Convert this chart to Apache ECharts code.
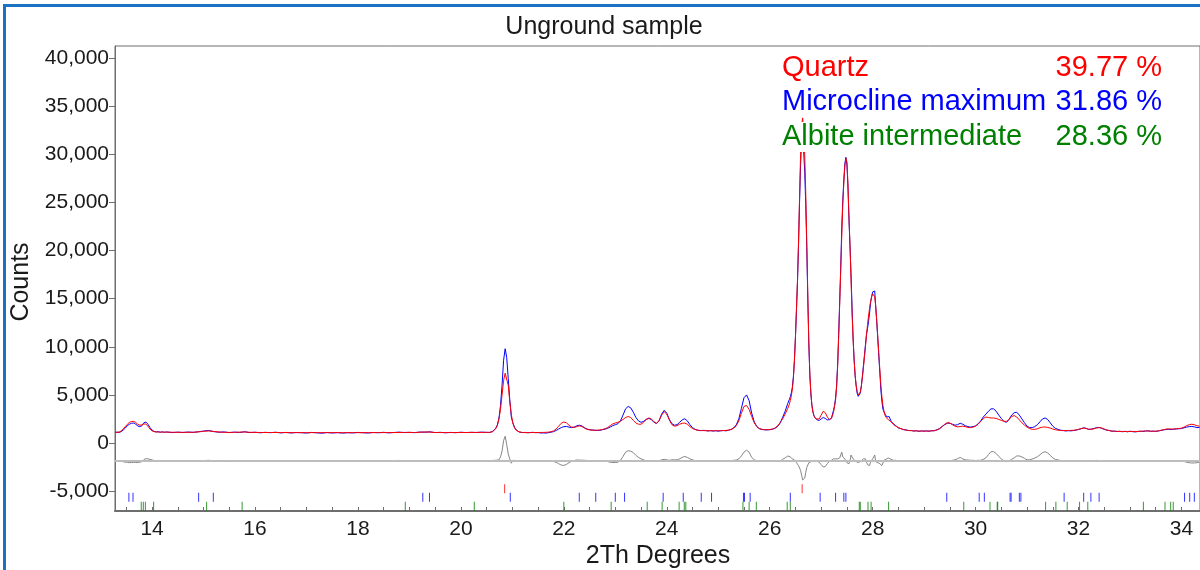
<!DOCTYPE html>
<html>
<head>
<meta charset="utf-8">
<title>Unground sample</title>
<script src="https://cdn.jsdelivr.net/npm/echarts/dist/echarts.min.js"></script>
<style>
  html, body { margin: 0; padding: 0; background: #fff; }
  #main { width: 1200px; height: 570px; }
</style>
</head>
<body>
<div id="main"></div>
<script>
// 2Th positions shared by observed / calculated profiles
var twoTheta = [
  13.28, 13.32, 13.36, 13.40, 13.44, 13.48, 13.52, 13.56, 13.60, 13.64, 13.68, 13.72, 13.76, 13.80, 13.84, 13.88, 13.92, 13.96, 14.00, 14.04, 14.08, 14.12, 14.16, 14.20, 14.24, 14.28,
  14.3, 14.4, 14.5, 14.6, 14.7, 14.8, 14.9, 15.0, 15.1, 15.2, 15.3, 15.4, 15.5, 15.6, 15.7, 15.8, 15.9, 16.0, 16.1, 16.2,
  16.3, 16.4, 16.5, 16.6, 16.7, 16.8, 16.9, 17.0, 17.1, 17.2, 17.3, 17.4, 17.5, 17.6, 17.7, 17.8, 17.9, 18.0, 18.1, 18.2,
  18.3, 18.4, 18.5, 18.6, 18.7, 18.8, 18.9, 19.0, 19.1, 19.2, 19.3, 19.4, 19.5, 19.6, 19.7, 19.8, 19.9, 20.0, 20.1, 20.2,
  20.3, 20.4, 20.5,
  20.56, 20.59, 20.62, 20.65, 20.68, 20.71, 20.74, 20.77, 20.80, 20.83, 20.86, 20.89, 20.92, 20.95, 20.98, 21.01, 21.04, 21.07, 21.10, 21.13, 21.16, 21.19, 21.22,
  21.25, 21.30, 21.35, 21.40, 21.45, 21.50, 21.55, 21.60, 21.65, 21.70,
  21.75, 21.80, 21.85, 21.90, 21.95, 22.00, 22.05, 22.10, 22.15, 22.20,
  22.25, 22.30, 22.35, 22.40, 22.45, 22.50, 22.55, 22.60, 22.65, 22.70,
  22.75, 22.80, 22.85, 22.90, 22.95, 23.00, 23.05, 23.10, 23.15, 23.20,
  23.25, 23.30, 23.35, 23.40, 23.45, 23.50, 23.55, 23.60, 23.65, 23.70,
  23.75, 23.80, 23.85, 23.90, 23.95, 24.00, 24.05, 24.10, 24.15, 24.20,
  24.25, 24.30, 24.35, 24.40, 24.45, 24.50, 24.55, 24.60, 24.65, 24.70,
  24.75, 24.80, 24.85, 24.90, 24.95, 25.00, 25.05, 25.10, 25.15, 25.20,
  25.25, 25.30, 25.35, 25.40, 25.45, 25.50, 25.55, 25.60, 25.65, 25.70,
  25.75, 25.80, 25.85, 25.90, 25.95, 26.00, 26.05, 26.10, 26.15, 26.20,
  26.25, 26.30, 26.35,
  26.38, 26.40, 26.42, 26.44, 26.46, 26.48, 26.50, 26.52, 26.54, 26.56, 26.58, 26.60, 26.62, 26.64, 26.66, 26.68, 26.70, 26.72, 26.74, 26.76,
  26.78, 26.80, 26.82, 26.84, 26.86, 26.88, 26.90,
  26.92, 26.96, 27.00, 27.04, 27.08, 27.12, 27.16, 27.20, 27.24,
  27.26, 27.28, 27.30, 27.32, 27.34, 27.36, 27.38, 27.40, 27.42, 27.44, 27.46, 27.48, 27.50, 27.52, 27.54, 27.56, 27.58, 27.60, 27.62, 27.64,
  27.66, 27.68, 27.70, 27.72,
  27.74, 27.76, 27.78, 27.80, 27.82, 27.84, 27.86, 27.88, 27.90, 27.92, 27.94, 27.96, 27.98, 28.00, 28.02, 28.04, 28.06, 28.08, 28.10, 28.12,
  28.14, 28.16, 28.18, 28.20, 28.22, 28.24, 28.26, 28.28, 28.30, 28.32, 28.34, 28.36,
  28.40, 28.45, 28.50, 28.55, 28.60, 28.65, 28.70, 28.75, 28.80, 28.85,
  28.90, 28.95, 29.00, 29.05, 29.10, 29.15, 29.20, 29.25, 29.30, 29.35,
  29.40, 29.45, 29.50, 29.55, 29.60, 29.65, 29.70, 29.75, 29.80, 29.85,
  29.90, 29.95, 30.00, 30.05, 30.10, 30.15, 30.20, 30.25, 30.30, 30.35,
  30.40, 30.45, 30.50, 30.55, 30.60, 30.65, 30.70, 30.75, 30.80, 30.85,
  30.90, 30.95, 31.00, 31.05, 31.10, 31.15, 31.20, 31.25, 31.30, 31.35,
  31.40, 31.45, 31.50, 31.55, 31.60, 31.65, 31.70, 31.75, 31.80, 31.85,
  31.90, 31.95, 32.00, 32.05, 32.10, 32.15, 32.20, 32.25, 32.30, 32.35,
  32.40, 32.45, 32.50, 32.55, 32.60, 32.65, 32.70, 32.75, 32.80, 32.85,
  32.90, 32.95, 33.00, 33.05, 33.10, 33.15, 33.20, 33.25, 33.30, 33.35,
  33.40, 33.45, 33.50, 33.55, 33.60, 33.65, 33.70, 33.75, 33.80, 33.85,
  33.90, 33.95, 34.00, 34.05, 34.10, 34.15, 34.20, 34.25, 34.30, 34.35
];

// observed counts (blue)
var observed = [
  1090, 1130, 1100, 1180, 1350, 1550, 1800, 1950, 2050, 2080, 1980, 1760, 1700, 1780, 2100, 2180, 1950, 1600, 1350, 1200, 1150, 1180, 1120, 1160, 1110, 1150,
  1150, 1080, 1130, 1090, 1140, 1100, 1170, 1240, 1300, 1180, 1120, 1150, 1080, 1130, 1090, 1170, 1080, 1120, 1060, 1110,
  1070, 1120, 1050, 1100, 1040, 1090, 1070, 1030, 1100, 1060, 1020, 1090, 1040, 1080, 1030, 1070, 1050, 1100, 1060, 1040,
  1090, 1070, 1110, 1050, 1090, 1130, 1080, 1110, 1070, 1140, 1120, 1160, 1080, 1110, 1060, 1100, 1070, 1120, 1080, 1110,
  1090, 1130, 1100,
  1100, 1150, 1220, 1350, 1550, 1900, 2600, 3900, 6000, 8600, 9800, 8900, 6700, 4500, 2700, 2100, 1650, 1380, 1250, 1150, 1120, 1080, 1060,
  1100, 1060, 1090, 1110, 1070, 1080, 1040, 1050, 1030, 1070,
  1120, 1180, 1300, 1450, 1600, 1700, 1720, 1650, 1600, 1650,
  1780, 1850, 1780, 1600, 1450, 1380, 1350, 1320, 1300, 1320,
  1380, 1440, 1520, 1650, 1800, 1900, 2000, 2300, 2900, 3550,
  3800, 3650, 3200, 2650, 2300, 2150, 2250, 2450, 2550, 2450,
  2150, 2020, 2300, 3000, 3400, 3100, 2450, 2000, 1850, 1900,
  2150, 2400, 2520, 2300, 1900, 1600, 1420, 1330, 1280, 1310,
  1300, 1250, 1290, 1240, 1280, 1230, 1270, 1300, 1260, 1320,
  1420, 1580, 1880, 2500, 3600, 4700, 5000, 4400, 3100, 2200,
  1700, 1480, 1400, 1370, 1360, 1380, 1420, 1520, 1700, 2050,
  2650, 3300, 4100,
  4500, 4800, 5200, 5800, 6900, 8600, 11000, 13800, 16800, 20500, 25000, 29000, 31500, 31800, 30300, 28200, 24800, 20300, 15000, 10300,
  7000, 5100, 3900, 3250, 2850, 2620, 2480,
  2400, 2350, 2500, 2650, 2550, 2400, 2420, 2600, 3400,
  3900, 4700, 6000, 8200, 11300, 14800, 18300, 22400, 25200, 27400, 29000, 29700, 29000, 26600, 23200, 20500, 17600, 14100, 11000, 8700,
  7000, 5900, 5150, 4850,
  4850, 5200, 5900, 6900, 8000, 9100, 10200, 11300, 11900, 12600, 13500, 14600, 15200, 15700, 15900, 15800, 14100, 12600, 10800, 9000,
  7300, 5500, 4300, 3500, 3350, 3000, 2800, 2700, 2750, 2750, 2500, 2250,
  2000, 1800, 1560, 1500, 1380, 1360, 1290, 1300, 1240, 1280,
  1210, 1260, 1230, 1250, 1220, 1280, 1270, 1380, 1500, 1720,
  1900, 2050, 2050, 1950, 1850, 1900, 2050, 1950, 1800, 1700,
  1650, 1700, 1780, 2000, 2300, 2700, 3000, 3300, 3550, 3550,
  3300, 2900, 2550, 2250, 2150, 2450, 2900, 3150, 3200, 2900,
  2500, 2100, 1750, 1600, 1600, 1700, 1900, 2200, 2500, 2600,
  2450, 2100, 1750, 1520, 1420, 1330, 1300, 1250, 1280, 1260,
  1290, 1340, 1400, 1480, 1580, 1520, 1400, 1450, 1500, 1600,
  1620, 1520, 1420, 1330, 1300, 1220, 1240, 1190, 1220, 1170,
  1210, 1160, 1220, 1180, 1150, 1190, 1230, 1200, 1240, 1270,
  1210, 1240, 1200, 1250, 1300, 1360, 1400, 1420, 1400, 1430,
  1460, 1480, 1500, 1580, 1650, 1700, 1720, 1680, 1600, 1620
];

// calculated profile (red)
var calculated = [
  1100, 1110, 1130, 1250, 1450, 1700, 1950, 2150, 2230, 2250, 2150, 1950, 1850, 1880, 1980, 1960, 1750, 1450, 1260, 1180, 1150, 1140, 1130, 1130, 1130, 1120,
  1120, 1115, 1110, 1110, 1110, 1120, 1150, 1220, 1250, 1200, 1140, 1110, 1100, 1110, 1130, 1140, 1110, 1100, 1095, 1090,
  1090, 1090, 1085, 1085, 1080, 1080, 1080, 1080, 1080, 1075, 1075, 1075, 1075, 1075, 1075, 1075, 1075, 1075, 1080, 1080,
  1080, 1080, 1080, 1085, 1085, 1090, 1100, 1100, 1090, 1110, 1150, 1130, 1090, 1085, 1085, 1085, 1085, 1090, 1090, 1100,
  1100, 1100, 1110,
  1100, 1120, 1180, 1300, 1500, 1850, 2500, 3500, 5000, 6500, 7250, 7200, 6000, 4300, 2950, 2050, 1600, 1350, 1230, 1160, 1120, 1100, 1090,
  1080, 1080, 1080, 1085, 1090, 1090, 1095, 1100, 1110, 1130,
  1170, 1260, 1450, 1750, 2050, 2180, 2100, 1850, 1650, 1620,
  1700, 1780, 1720, 1550, 1420, 1360, 1340, 1330, 1330, 1350,
  1400, 1480, 1600, 1800, 1980, 2080, 2150, 2260, 2450, 2650,
  2750, 2650, 2350, 2080, 1950, 1950, 2150, 2450, 2600, 2500,
  2200, 2070, 2300, 2900, 3250, 3000, 2400, 1900, 1750, 1800,
  1950, 2050, 2070, 1950, 1700, 1500, 1400, 1330, 1300, 1290,
  1280, 1270, 1270, 1270, 1270, 1275, 1280, 1290, 1310, 1340,
  1400, 1530, 1800, 2300, 3100, 3800, 3900, 3500, 2750, 2100,
  1700, 1500, 1420, 1390, 1380, 1400, 1450, 1550, 1750, 2100,
  2500, 3000, 3600,
  4000, 4400, 4900, 5600, 6700, 8500, 11000, 14000, 17000, 21000, 25500, 30000, 33000, 33800, 32500, 30000, 26000, 21000, 15500, 10500,
  7200, 5200, 3900, 3200, 2800, 2600, 2500,
  2450, 2500, 2900, 3300, 3150, 2700, 2450, 2550, 3200,
  3800, 4500, 5800, 8000, 11000, 14500, 18000, 21500, 24800, 27000, 28800, 29600, 29200, 27000, 23500, 20500, 17000, 13500, 10800, 8600,
  7000, 6000, 5300, 5000,
  5000, 5300, 5900, 6800, 7800, 8900, 10000, 11200, 12300, 13200, 14000, 14700, 15200, 15500, 15600, 15200, 14200, 12700, 11000, 9300,
  7600, 6000, 4800, 3900, 3300, 2900, 2650, 2500, 2450, 2400, 2300, 2150,
  1950, 1750, 1600, 1480, 1400, 1340, 1300, 1280, 1260, 1250,
  1240, 1240, 1240, 1240, 1250, 1260, 1290, 1350, 1480, 1700,
  1950, 2120, 2080, 1900, 1750, 1680, 1700, 1750, 1700, 1620,
  1600, 1650, 1750, 1950, 2250, 2550, 2700, 2650, 2600, 2600,
  2550, 2450, 2350, 2250, 2250, 2450, 2750, 2850, 2700, 2400,
  2100, 1850, 1650, 1500, 1420, 1420, 1480, 1580, 1650, 1660,
  1620, 1550, 1450, 1380, 1330, 1300, 1290, 1290, 1300, 1310,
  1320, 1350, 1420, 1500, 1550, 1500, 1430, 1420, 1480, 1560,
  1600, 1560, 1450, 1350, 1280, 1240, 1220, 1210, 1200, 1200,
  1200, 1200, 1200, 1200, 1200, 1200, 1210, 1230, 1260, 1250,
  1230, 1220, 1230, 1260, 1320, 1380, 1440, 1470, 1450, 1450,
  1480, 1500, 1550, 1650, 1800, 1900, 1950, 1900, 1800, 1750
];

// reflection positions of each phase (2Th)
var quartzTicks = [20.85, 26.63];
var microclineTicks = [13.55, 13.63, 14.905, 15.19, 19.26, 19.39, 20.96, 22.30, 22.62, 23.00, 23.18, 23.93, 24.32, 24.67, 24.87,
  25.49, 25.51, 25.62, 26.40, 26.98, 27.28, 27.44, 27.48, 29.44, 30.07, 30.17, 30.67, 30.69, 30.85, 30.88, 31.72, 32.10,
  32.24, 32.40, 34.06, 34.16, 34.25];
var albiteTicks = [13.79, 13.83, 13.87, 14.03, 15.06, 15.75, 18.92, 20.26, 22.00, 22.92, 23.62, 23.91, 24.24, 24.34, 24.37,
  25.48, 25.60, 25.74, 26.34, 26.40, 27.74, 27.76, 27.91, 27.97, 28.31, 29.77, 30.28, 30.42, 30.43, 31.36, 31.56, 31.78,
  32.02, 32.18, 33.26, 33.68, 33.79, 33.84];

var phaseNames = ['Quartz', 'Microcline maximum', 'Albite intermediate'];
var phasePercents = ['39.77 %', '31.86 %', '28.36 %'];
var phaseColors = ['#ff0000', '#0000ff', '#008000'];

// axis ticks / labels
var xLabelValues = [14, 16, 18, 20, 22, 24, 26, 28, 30, 32, 34];
var xTickValues = [13.5, 14, 14.5, 15, 15.5, 16, 16.5, 17, 17.5, 18, 18.5, 19, 19.5, 20, 20.5, 21, 21.5, 22, 22.5, 23, 23.5,
  24, 24.5, 25, 25.5, 26, 26.5, 27, 27.5, 28, 28.5, 29, 29.5, 30, 30.5, 31, 31.5, 32, 32.5, 33, 33.5, 34];
var yLabelValues = [-5000, 0, 5000, 10000, 15000, 20000, 25000, 30000, 35000, 40000];
var yMinorValues = [-6250, -3750, -2500, -1250, 1250, 2500, 3750, 6250, 7500, 8750, 11250, 12500, 13750, 16250, 17500, 18750,
  21250, 22500, 23750, 26250, 27500, 28750, 31250, 32500, 33750, 36250, 37500, 38750, 41250];

var diffOffset = -1850;          // where the difference curve sits
var tickRows = [-4750, -5640, -6570]; // rows of the reflection markers

var FONT = "'Liberation Sans', Arial, sans-serif";

var obsData = twoTheta.map(function (t, i) { return [t, observed[i]]; });
var calcData = twoTheta.map(function (t, i) { return [t, calculated[i]]; });
var diffData = twoTheta.map(function (t, i) { return [t, observed[i] - calculated[i] + diffOffset]; });

function tickSeries(list, row, color) {
  return {
    type: 'scatter',
    symbol: 'rect',
    symbolSize: [1, 9],
    itemStyle: { color: color },
    silent: true,
    z: 1,
    data: list.map(function (t) { return [t, row]; })
  };
}

var myChart = echarts.init(document.getElementById('main'));

var legendTexts = [];
phaseNames.forEach(function (name, i) {
  var y = 67.5 + i * 34.7;
  legendTexts.push({
    type: 'text', z: 100, x: 782, y: y,
    style: {
      text: name, fill: phaseColors[i], font: '29px ' + FONT,
      align: 'left', verticalAlign: 'middle',
      backgroundColor: '#fff', lineHeight: 30
    }
  });
  legendTexts.push({
    type: 'text', z: 100, x: 1162, y: y,
    style: {
      text: phasePercents[i], fill: phaseColors[i], font: '29px ' + FONT,
      align: 'right', verticalAlign: 'middle',
      backgroundColor: '#fff', lineHeight: 30
    }
  });
});

myChart.setOption({
  animation: false,
  backgroundColor: '#fff',
  grid: {
    left: 115, top: 46, right: -2, bottom: 59,
    show: true, borderColor: '#6e6e6e', borderWidth: 1,
    containLabel: false
  },
  xAxis: {
    type: 'value',
    min: 13.28,
    max: 34.36,
    axisLine: { show: true, onZero: false, lineStyle: { color: '#6e6e6e', width: 2 } },
    axisTick: { show: true, inside: true, length: 4, customValues: xTickValues, lineStyle: { color: '#6e6e6e' } },
    axisLabel: {
      customValues: xLabelValues, margin: 8,
      fontFamily: FONT, fontSize: 21, color: '#1a1a1a'
    },
    splitLine: { show: false }
  },
  yAxis: [{
    type: 'value',
    min: -7070,
    max: 41270,
    axisLine: { show: true, lineStyle: { color: '#6e6e6e' } },
    axisTick: { show: true, length: 6, customValues: yLabelValues, lineStyle: { color: '#6e6e6e' } },
    axisLabel: {
      customValues: yLabelValues, margin: 6,
      fontFamily: FONT, fontSize: 21, color: '#1a1a1a',
      formatter: function (v) { return v.toLocaleString('en-US'); }
    },
    splitLine: { show: false }
  }, {
    type: 'value',
    min: -7070,
    max: 41270,
    axisLine: { show: false },
    axisTick: { show: true, length: 3, customValues: yMinorValues, lineStyle: { color: '#6e6e6e' } },
    axisLabel: { show: false },
    splitLine: { show: false }
  }],
  graphic: [
    {
      type: 'rect', z: 100, silent: true,
      shape: { x: 4.5, y: 5.5, width: 1400, height: 800 },
      style: { fill: 'none', stroke: '#1a72c2', lineWidth: 3 }
    },
    {
      type: 'text', z: 100, x: 604, y: 27,
      style: { text: 'Unground sample', fill: '#1a1a1a', font: '25px ' + FONT, align: 'center', verticalAlign: 'middle' }
    },
    {
      type: 'text', z: 100, x: 21, y: 282, rotation: Math.PI / 2,
      style: { text: 'Counts', fill: '#1a1a1a', font: '25px ' + FONT, align: 'center', verticalAlign: 'middle' }
    },
    {
      type: 'text', z: 100, x: 658, y: 556,
      style: { text: '2Th Degrees', fill: '#1a1a1a', font: '25px ' + FONT, align: 'center', verticalAlign: 'middle' }
    }
  ].concat(legendTexts),
  series: [
    {
      name: 'Difference',
      type: 'line',
      data: diffData,
      showSymbol: false,
      lineStyle: { color: '#858585', width: 1 },
      z: 2,
      silent: true,
      markLine: {
        silent: true,
        symbol: 'none',
        label: { show: false },
        lineStyle: { color: '#bdbdbd', width: 2, type: 'solid' },
        data: [{ yAxis: diffOffset }]
      }
    },
    {
      name: 'Observed',
      type: 'line',
      data: obsData,
      showSymbol: false,
      lineStyle: { color: '#0000ff', width: 1 },
      z: 3,
      silent: true
    },
    {
      name: 'Calculated',
      type: 'line',
      data: calcData,
      showSymbol: false,
      lineStyle: { color: '#ff0000', width: 1 },
      z: 4,
      silent: true
    },
    tickSeries(quartzTicks, tickRows[0], phaseColors[0]),
    tickSeries(microclineTicks, tickRows[1], phaseColors[1]),
    tickSeries(albiteTicks, tickRows[2], phaseColors[2])
  ]
});

window.addEventListener('resize', function () {
  myChart.resize();
});
</script>
</body>
</html>
